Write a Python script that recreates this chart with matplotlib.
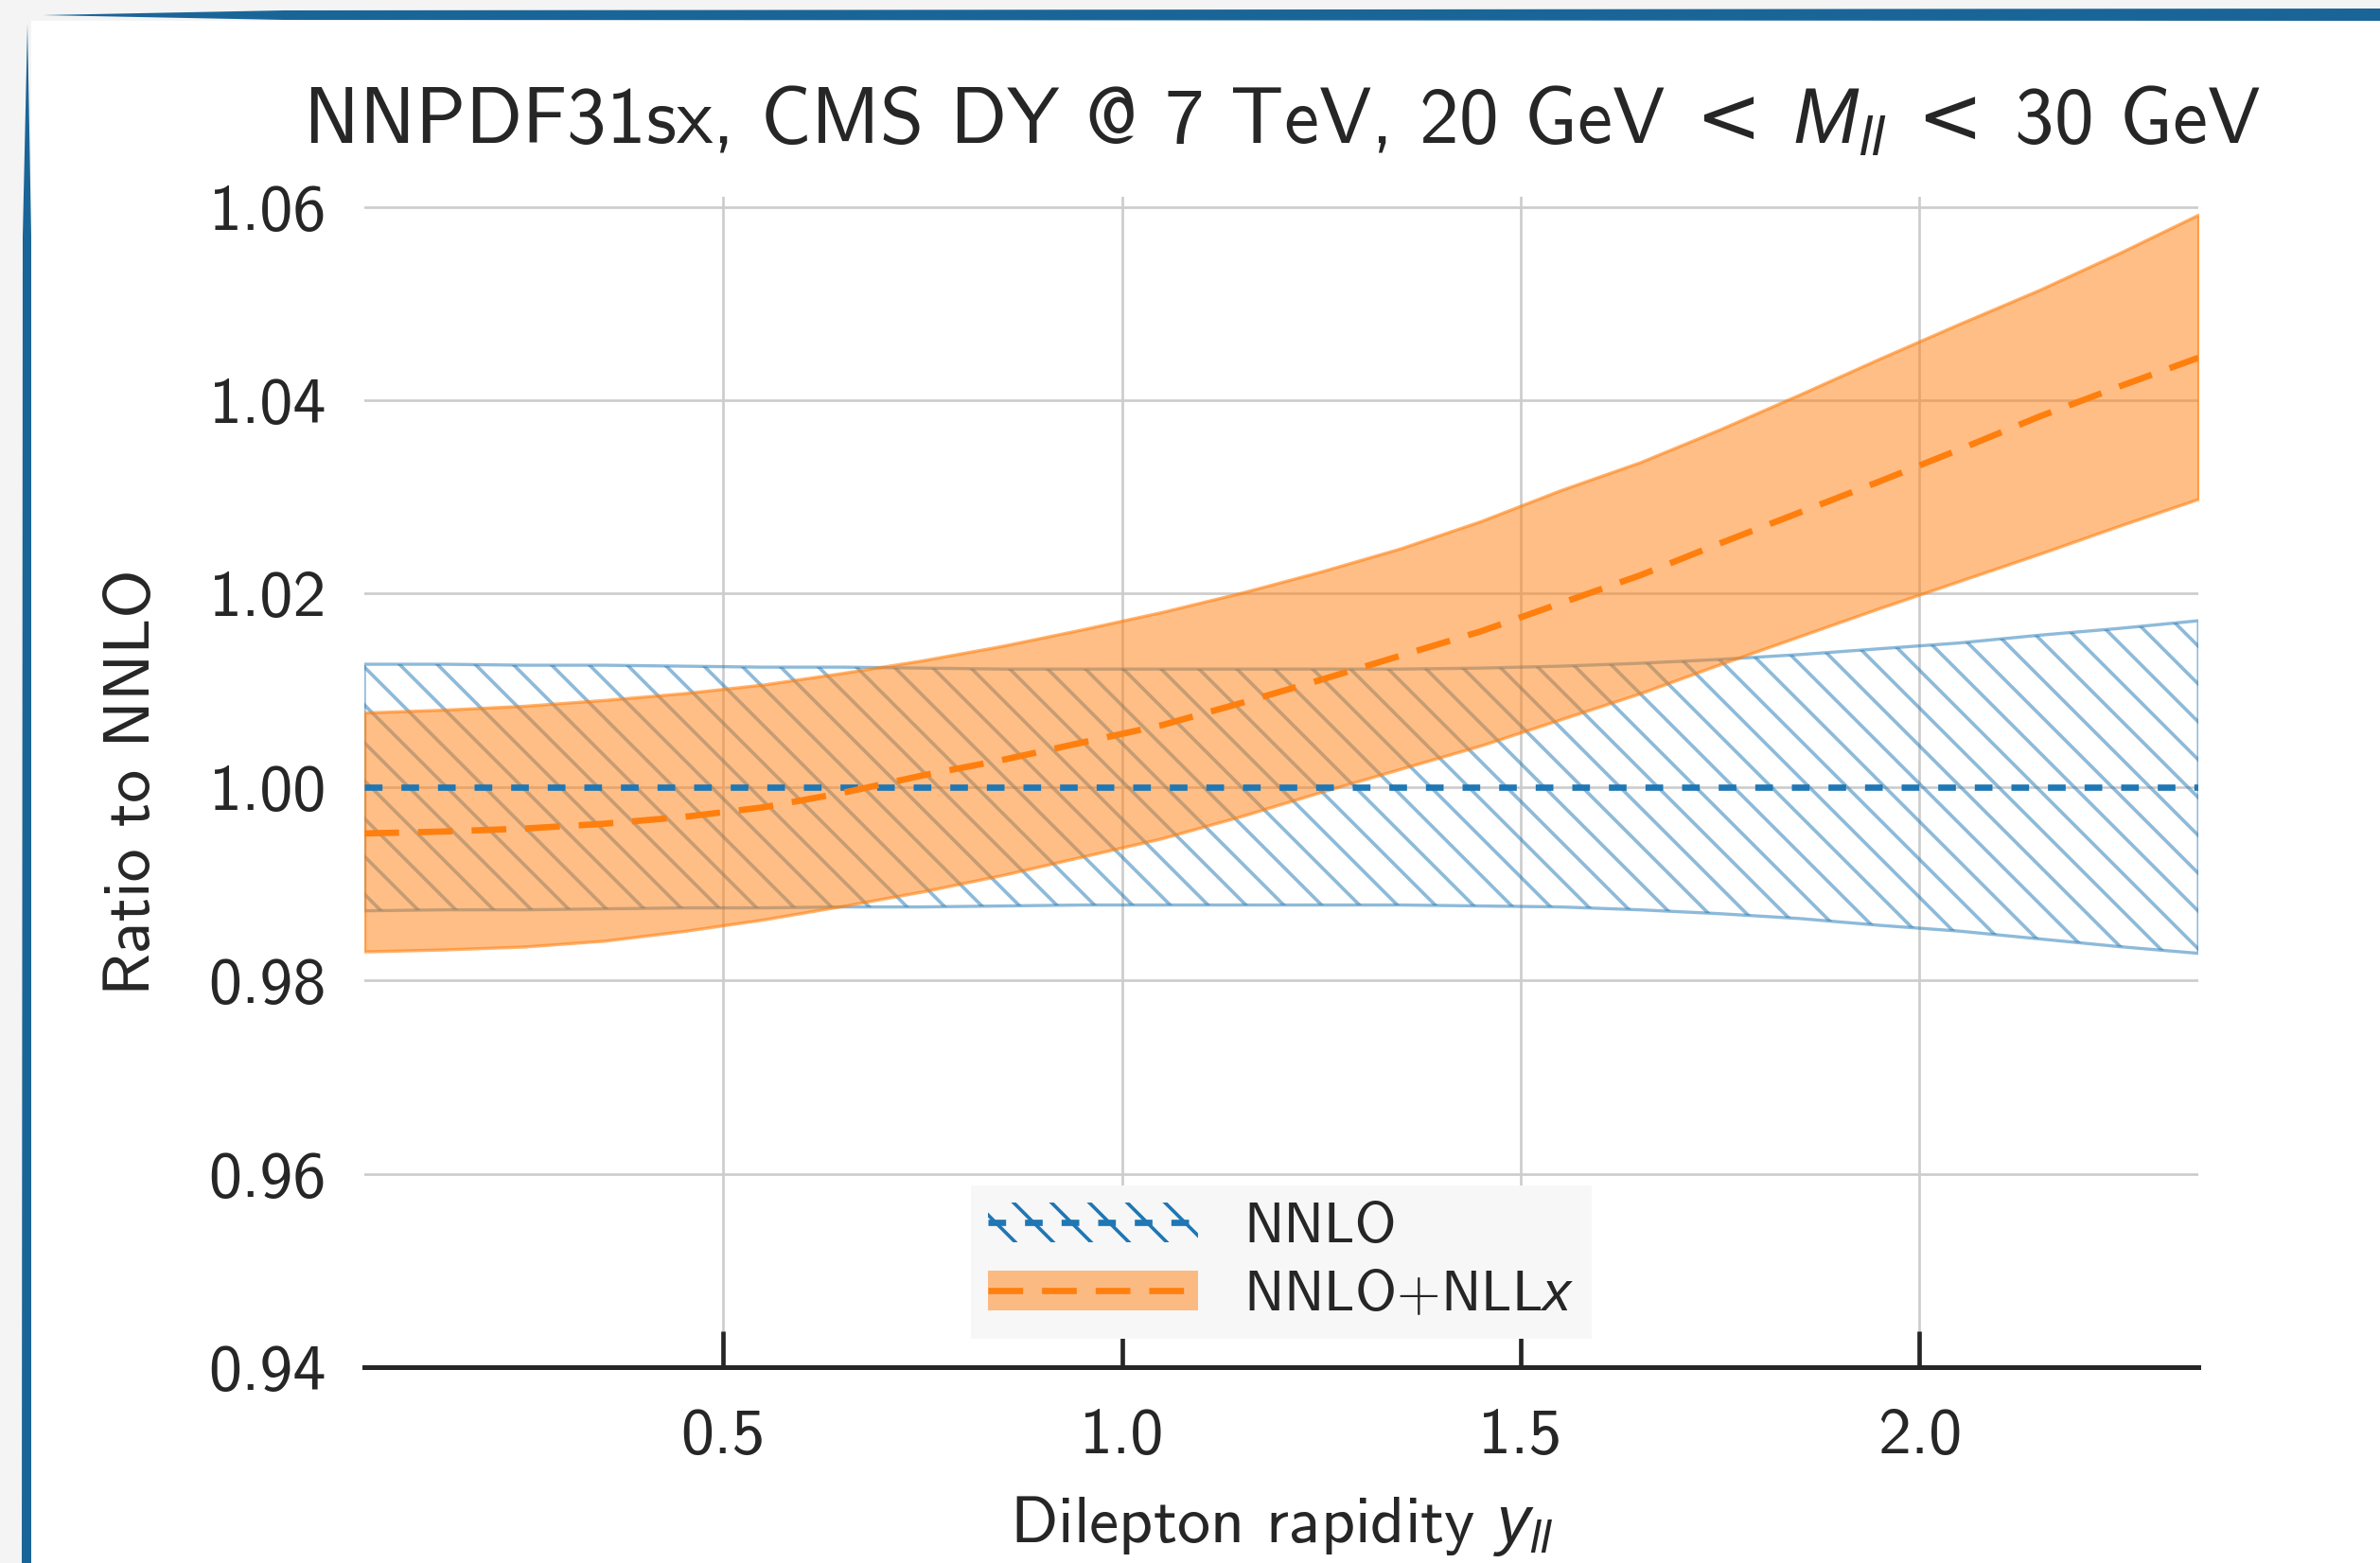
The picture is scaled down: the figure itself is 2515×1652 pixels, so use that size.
import numpy as np
import matplotlib
matplotlib.use("Agg")
import matplotlib.pyplot as plt
from matplotlib.patches import Patch, Polygon, Rectangle
from matplotlib.lines import Line2D

# rapidity bin centres
y_ll = [0.05, 0.15, 0.25, 0.35, 0.45, 0.55, 0.65, 0.75, 0.85, 0.95, 1.05, 1.15,
        1.25, 1.35, 1.45, 1.55, 1.65, 1.75, 1.85, 1.95, 2.05, 2.15, 2.25, 2.35]

# NNLO (ratio to itself = 1), PDF uncertainty band
nnlo_cv = [1.0] * 24
nnlo_up = [1.0127, 1.0127, 1.0126, 1.0126, 1.0125, 1.0124, 1.0124, 1.0123,
           1.0122, 1.0122, 1.0122, 1.0122, 1.0122, 1.0122, 1.0123, 1.0125,
           1.0128, 1.0132, 1.0137, 1.0143, 1.0149, 1.0157, 1.0164, 1.0172]
nnlo_lo = [0.9872, 0.9873, 0.9873, 0.9874, 0.9875, 0.9875, 0.9876, 0.9876,
           0.9877, 0.9878, 0.9878, 0.9878, 0.9878, 0.9878, 0.9877, 0.9876,
           0.9873, 0.9869, 0.9864, 0.9857, 0.9851, 0.9843, 0.9835, 0.9828]

# NNLO+NLLx
res_cv = [0.9952, 0.9954, 0.9957, 0.9962, 0.9969, 0.9979, 0.9994, 1.0012,
          1.0028, 1.0046, 1.0064, 1.0087, 1.0111, 1.0136, 1.0161, 1.0190,
          1.0219, 1.0252, 1.0284, 1.0316, 1.0349, 1.0383, 1.0414, 1.0444]
res_up = [1.0077, 1.0080, 1.0084, 1.0090, 1.0097, 1.0106, 1.0118, 1.0131,
          1.0146, 1.0163, 1.0181, 1.0201, 1.0223, 1.0247, 1.0275, 1.0307,
          1.0336, 1.0370, 1.0406, 1.0443, 1.0479, 1.0514, 1.0552, 1.0592]
res_lo = [0.9830, 0.9832, 0.9835, 0.9841, 0.9851, 0.9863, 0.9877, 0.9892,
          0.9909, 0.9928, 0.9947, 0.9970, 0.9995, 1.0019, 1.0043, 1.0070,
          1.0097, 1.0127, 1.0156, 1.0185, 1.0213, 1.0241, 1.0270, 1.0298]

xticks = [0.5, 1.0, 1.5, 2.0]
yticks = [0.94, 0.96, 0.98, 1.00, 1.02, 1.04, 1.06]

BLUE = "#1f77b4"
ORANGE = "#ff7f0e"
TXT = "#262626"

plt.rcParams["font.family"] = ["cmss10", "DejaVu Sans"]
plt.rcParams["mathtext.fontset"] = "custom"
plt.rcParams["mathtext.rm"] = "DejaVu Sans"
plt.rcParams["mathtext.it"] = "Liberation Sans:italic"
plt.rcParams["mathtext.bf"] = "DejaVu Sans:bold"
plt.rcParams["hatch.linewidth"] = 1.1
plt.rcParams["text.color"] = TXT
plt.rcParams["axes.labelcolor"] = TXT

DPI = 240
fig = plt.figure(figsize=(2515 / DPI, 1652 / DPI), dpi=DPI)
fig.patch.set_facecolor("#f4f4f4")

# slide-like frame: white panel with blue bars on top and left
W, H = 2515.0, 1652.0
def fx(px): return px / W
def fy(py): return 1 - py / H
fig.patches.append(Rectangle((fx(33), 0), 1 - fx(33), fy(22), transform=fig.transFigure,
                             facecolor="white", edgecolor="none", zorder=-2))
top_bar = [(45, 16), (300, 11), (2515, 9), (2515, 22), (300, 21)]
fig.patches.append(Polygon([(fx(a), fy(b)) for a, b in top_bar], closed=True,
                           transform=fig.transFigure, facecolor="#1a6598",
                           edgecolor="none", zorder=-1))
left_bar = [(29, 25), (24, 250), (23, 1652), (33, 1652), (33, 250)]
fig.patches.append(Polygon([(fx(a), fy(b)) for a, b in left_bar], closed=True,
                           transform=fig.transFigure, facecolor="#1a6598",
                           edgecolor="none", zorder=-1))

ax = fig.add_axes([0.1531, 0.1253, 0.7706, 0.7485])
ax.set_zorder(1)
ax.set_facecolor("white")

# NNLO band (hatched), then NNLO+NLLx band on top
ax.fill_between(y_ll, nnlo_lo, nnlo_up, facecolor="none",
                edgecolor=(0.122, 0.467, 0.706, 0.5), hatch="\\\\", linewidth=1.0, zorder=2)
ax.fill_between(y_ll, res_lo, res_up, facecolor=(1.0, 0.498, 0.055, 0.5),
                edgecolor=(1.0, 0.498, 0.055, 0.6), linewidth=1.0, zorder=3)
ax.plot(y_ll, nnlo_cv, color=BLUE, lw=2.0, dashes=(2.8, 3.0), zorder=4)
ax.plot(y_ll, res_cv, color=ORANGE, lw=2.0, dashes=(5.5, 3.0), zorder=5)

ax.set_xlim(0.05, 2.35)
ax.set_ylim(0.94, 1.061)
ax.set_xticks(xticks)
ax.set_yticks(yticks)
ax.set_yticklabels([f"{v:.2f}" for v in yticks])

ax.grid(True, color="#cccccc", linewidth=0.8)
ax.set_axisbelow(True)
for s in ["top", "right", "left"]:
    ax.spines[s].set_visible(False)
ax.spines["bottom"].set_color(TXT)
ax.spines["bottom"].set_linewidth(1.5)
ax.tick_params(axis="x", direction="in", length=11.5, width=1.4, color=TXT,
               labelsize=21, labelcolor=TXT, pad=13)
ax.tick_params(axis="y", length=0, labelsize=21, labelcolor=TXT, pad=12)

ax.set_title(r"NNPDF31sx, CMS DY @ 7 TeV, 20 GeV$\;<\;M_{ll}\;<\;$30 GeV",
             fontsize=25, pad=17)
ax.set_xlabel(r"Dilepton rapidity $y_{ll}$", fontsize=21, labelpad=9)
ax.set_ylabel("Ratio to NNLO", fontsize=21, labelpad=15)

h_nnlo = (Patch(facecolor="none", edgecolor=BLUE, hatch="\\\\", linewidth=0),
          Line2D([], [], color=BLUE, lw=2.0, dashes=(2.8, 3.0)))
h_res = (Patch(facecolor=(1.0, 0.498, 0.055, 0.5), edgecolor="none"),
         Line2D([], [], color=ORANGE, lw=2.0, dashes=(5.5, 3.0)))
leg = ax.legend([h_nnlo, h_res], ["NNLO", r"NNLO+NLL$x$"], loc="lower center",
                fontsize=18, handlelength=3.7, handleheight=0.7, labelspacing=0.3,
                handletextpad=0.8, borderpad=0.3, frameon=True,
                fancybox=False, facecolor="#f7f7f7", edgecolor="none", framealpha=1.0,
                borderaxespad=0.5)

fig.savefig("out.png", dpi=DPI, facecolor=fig.get_facecolor())
